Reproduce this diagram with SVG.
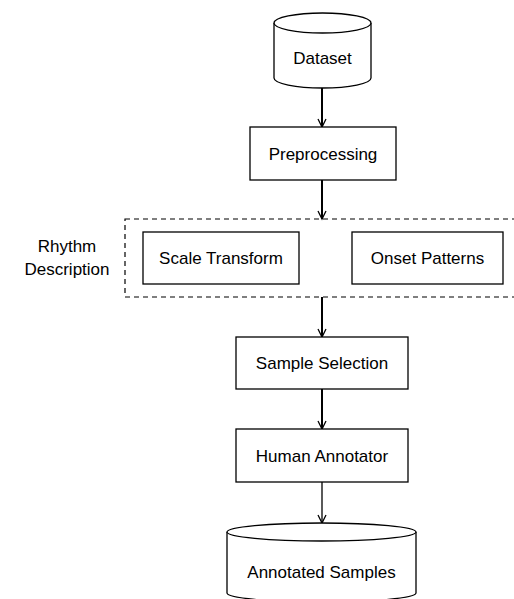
<svg xmlns="http://www.w3.org/2000/svg" width="514" height="599" viewBox="0 0 514 599">
<style>
.box{fill:#fff;stroke:#000;stroke-width:1.3}
.t{font-family:"Liberation Sans",Arial,sans-serif;font-size:17px;fill:#000;text-anchor:middle}
.c{fill:none;stroke:#000}
.ah{fill:none;stroke:#000;stroke-width:1.3}
</style>
<rect width="514" height="599" fill="#fff"/>
<g id="rhythm-description">
<rect x="125" y="219" width="400" height="78" fill="none" stroke="#000" stroke-width="1.2" stroke-dasharray="5,4"/>
<text class="t" x="67" y="252">Rhythm</text>
<text class="t" x="67" y="275">Description</text>
</g>
<g id="connectors">
<path class="c" stroke-width="2" d="M322 88V127"/>
<path class="ah" d="M318 119L322 127L326 119"/>
<path class="c" stroke-width="2" d="M322 180V219"/>
<path class="ah" d="M318 211L322 219L326 211"/>
<path class="c" stroke-width="2" d="M322 297V337"/>
<path class="ah" d="M318 329L322 337L326 329"/>
<path class="c" stroke-width="2" d="M322 389V429"/>
<path class="ah" d="M318 421L322 429L326 421"/>
<path class="c" stroke-width="1.3" d="M322 482V523"/>
<path class="ah" d="M318 515L322 523L326 515"/>
</g>
<g id="dataset">
<path class="box" d="M274 23V78A48.5 10 0 0 0 371 78V23"/>
<ellipse class="box" cx="322.5" cy="23" rx="48.5" ry="10"/>
<text class="t" x="322.5" y="64">Dataset</text>
</g>
<g id="preprocessing">
<rect class="box" x="250" y="127" width="146" height="53"/>
<text class="t" x="323" y="160">Preprocessing</text>
</g>
<g id="scale-transform">
<rect class="box" x="143" y="232" width="156" height="52"/>
<text class="t" x="221" y="264">Scale Transform</text>
</g>
<g id="onset-patterns">
<rect class="box" x="352" y="232" width="151" height="52"/>
<text class="t" x="427.5" y="264">Onset Patterns</text>
</g>
<g id="sample-selection">
<rect class="box" x="236" y="337" width="172" height="52"/>
<text class="t" x="322" y="369">Sample Selection</text>
</g>
<g id="human-annotator">
<rect class="box" x="236" y="429" width="172" height="53"/>
<text class="t" x="322" y="462">Human Annotator</text>
</g>
<g id="annotated-samples">
<path class="box" d="M227 532V593A94.5 9 0 0 0 416 593V532"/>
<ellipse class="box" cx="321.5" cy="532" rx="94.5" ry="9"/>
<text class="t" x="321.5" y="578">Annotated Samples</text>
</g>
</svg>
